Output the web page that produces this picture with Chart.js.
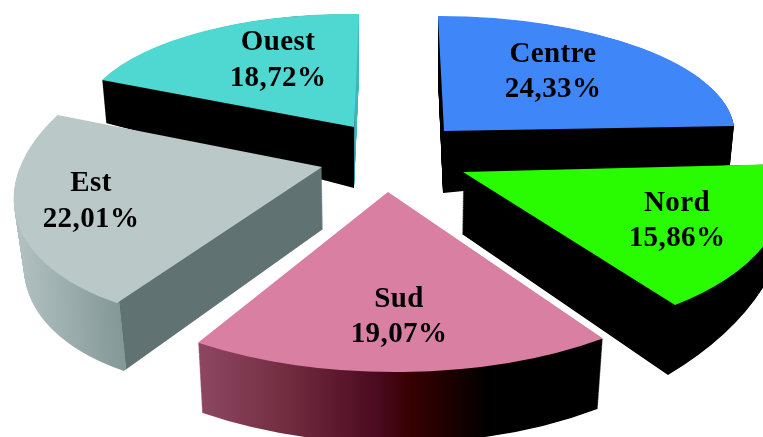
<!DOCTYPE html>
<html>
<head>
<meta charset="utf-8">
<title>Répartition</title>
<script src="https://cdn.jsdelivr.net/npm/chart.js@4"></script>
<style>
    html, body { margin: 0; padding: 0; background: #fff; overflow: hidden; }
    canvas { display: block; }
</style>
</head>
<body>
<canvas id="pie" width="763" height="437"></canvas>
<script>
// data
const categories = ['Centre', 'Nord', 'Sud', 'Est', 'Ouest'];
const shares = [24.33, 15.86, 19.07, 22.01, 18.72];

// colours of the top faces
const topColors = ['#3f87f8', '#29fb00', '#d97fa2', '#bac8c8', '#4fd8d2'];

// side wall colours, by page x: [x, colour, drift of x towards the bottom of the wall]
const sideStops = [
    [[0, '#000000'], [763, '#000000']],
    [[0, '#000000'], [763, '#000000']],
    [[198, '#8e4762'], [283, '#742e42'], [377, '#4b0a20'], [413, '#360000'], [490, '#000000'], [763, '#000000']],
    [[13, '#b4c3c3'], [119, '#849898', 7], [119.6, '#607272', 7], [763, '#607272']],
    [[0, '#000000'], [354, '#000000'], [354.6, '#3bb8b8'], [763, '#3bb8b8']]
];

// 3D look: every slice is pulled apart and tilted on its own
// view: [ox, oy, ax, ay, cx, cy], tip of the slice and the two axes of its tilted circle
const topViews = [
    [444, 131, 290.5, -0.2, 6, 115],
    [463, 172, 321.6, -1.1, 32, 163.8],
    [388, 192, 359.3, -0.6, 9, 180],
    [322, 167, 305, -9, -44.7, 157],
    [354, 127, 275, 3.9, -5, 113]
];
const baseViews = [
    [443, 193, 287.5, -23, 5, 115],
    [462, 234, 326.2, -41.6, 21.4, 202.2],
    [389, 258, 351.3, -0.5, 7.3, 185],
    [323, 229, 296, -13.9, -43.6, 160.8],
    [354, 188, 270.7, 23.4, -5, 113]
];

// back to front
const drawOrder = [4, 0, 3, 1, 2];
const wallLayers = 90;

const labelSpots = [[553, 62, 97], [677, 211, 246], [399, 307, 342], [91, 191, 227], [278, 50, 86]];

function mixView(top, base, t) {
    return top.map((v, i) => v + (base[i] - v) * t);
}

// from chart space (circle of radius r around arc.x, arc.y) to the page
function viewMatrix(view, arc) {
    const [ox, oy, ax, ay, cx, cy] = view;
    const r = arc.outerRadius;
    const a = ax / r, b = ay / r, c = cx / r, d = cy / r;
    return { a, b, c, d, e: ox - a * arc.x - c * arc.y, f: oy - b * arc.x - d * arc.y };
}

// gradient that runs along page x whatever the tilt is
function wallGradient(ctx, m, stops, t) {
    const xs = stops.map(s => s[0] + (s[2] || 0) * t);
    const x0 = xs[0], x1 = xs[xs.length - 1];
    const n = m.a * m.a + m.c * m.c;
    const g = ctx.createLinearGradient(
        m.a * (x0 - m.e) / n, m.c * (x0 - m.e) / n,
        m.a * (x1 - m.e) / n, m.c * (x1 - m.e) / n
    );
    stops.forEach((s, i) => g.addColorStop((xs[i] - x0) / (x1 - x0), s[1]));
    return g;
}

function drawWith(ctx, arc, m, fill) {
    const saved = arc.options;
    arc.options = { ...saved, backgroundColor: fill };
    ctx.save();
    ctx.transform(m.a, m.b, m.c, m.d, m.e, m.f);
    arc.draw(ctx);
    ctx.restore();
    arc.options = saved;
}

const tiltedPie = {
    id: 'tiltedPie',
    beforeDatasetsDraw(chart) {
        const ctx = chart.ctx;
        const arcs = chart.getDatasetMeta(0).data;
        for (const i of drawOrder) {
            const arc = arcs[i];
            // wall first, from the bottom up
            for (let k = wallLayers; k > 0; k--) {
                const t = k / wallLayers;
                const m = viewMatrix(mixView(topViews[i], baseViews[i], t), arc);
                drawWith(ctx, arc, m, wallGradient(ctx, m, sideStops[i], t));
            }
            drawWith(ctx, arc, viewMatrix(topViews[i], arc), topColors[i]);
        }
        return false; // the normal flat pie is not wanted
    },
    // afterDatasetsDraw does not fire once the hook above returns false
    afterDraw(chart) {
        const ctx = chart.ctx;
        ctx.save();
        ctx.fillStyle = '#000';
        ctx.font = 'bold 29px "Liberation Serif"';
        ctx.letterSpacing = '0.4px';
        ctx.textAlign = 'center';
        ctx.textBaseline = 'alphabetic';
        categories.forEach((name, i) => {
            const [x, y1, y2] = labelSpots[i];
            ctx.fillText(name, x, y1);
            ctx.fillText(shares[i].toFixed(2).replace('.', ',') + '%', x, y2);
        });
        ctx.restore();
    }
};

new Chart(document.getElementById('pie'), {
    type: 'pie',
    data: {
        labels: categories,
        datasets: [{
            data: shares,
            backgroundColor: topColors,
            borderWidth: 0
        }]
    },
    options: {
        responsive: false,
        animation: false,
        plugins: {
            legend: { display: false },
            tooltip: { enabled: false }
        }
    },
    plugins: [tiltedPie]
});
</script>
</body>
</html>
